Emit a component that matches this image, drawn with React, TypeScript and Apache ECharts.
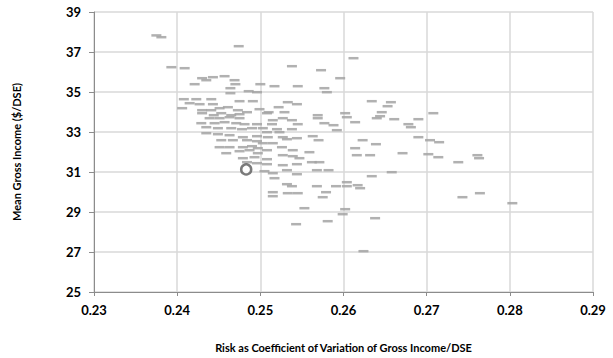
import React, { useEffect, useRef } from "react";
import * as echarts from "echarts";

// Risk (coefficient of variation) for each farm label
const riskValues: number[] = [
  0.2375, 0.2381, 0.2474, 0.2393, 0.2409, 0.2538, 0.2573, 0.2612, 0.2596, 0.2430,
  0.2443, 0.2457, 0.2421, 0.2435, 0.2469, 0.2470, 0.2500, 0.2517, 0.2545, 0.2464,
  0.2486, 0.2496, 0.2577, 0.2580, 0.2464, 0.2408, 0.2423, 0.2441, 0.2475, 0.2491,
  0.2415, 0.2427, 0.2443, 0.2533, 0.2544, 0.2634, 0.2657, 0.2653, 0.2406, 0.2430,
  0.2441, 0.2451, 0.2461, 0.2473, 0.2484, 0.2499, 0.2510, 0.2522, 0.2529, 0.2569,
  0.2569, 0.2602, 0.2604, 0.2646, 0.2644, 0.2640, 0.2661, 0.2708, 0.2430, 0.2444,
  0.2453, 0.2465, 0.2475, 0.2508, 0.2439, 0.2451, 0.2463, 0.2475, 0.2515, 0.2527,
  0.2538, 0.2614, 0.2690, 0.2678, 0.2681, 0.2429, 0.2445, 0.2457, 0.2471, 0.2481,
  0.2496, 0.2514, 0.2545, 0.2577, 0.2588, 0.2435, 0.2449, 0.2465, 0.2478, 0.2490,
  0.2503, 0.2520, 0.2538, 0.2592, 0.2508, 0.2523, 0.2435, 0.2449, 0.2463, 0.2479,
  0.2496, 0.2509, 0.2527, 0.2544, 0.2563, 0.2570, 0.2623, 0.2639, 0.2690, 0.2704,
  0.2715, 0.2453, 0.2467, 0.2484, 0.2496, 0.2515, 0.2532, 0.2503, 0.2451, 0.2463,
  0.2479, 0.2490, 0.2497, 0.2508, 0.2526, 0.2539, 0.2614, 0.2459, 0.2475, 0.2487,
  0.2497, 0.2527, 0.2539, 0.2547, 0.2559, 0.2616, 0.2632, 0.2671, 0.2702, 0.2714,
  0.2738, 0.2761, 0.2763, 0.2479, 0.2493, 0.2508, 0.2484, 0.2496, 0.2508, 0.2527,
  0.2544, 0.2562, 0.2571, 0.2505, 0.2515, 0.2532, 0.2544, 0.2568, 0.2582, 0.2634,
  0.2658, 0.2517, 0.2532, 0.2538, 0.2568, 0.2591, 0.2604, 0.2604, 0.2617, 0.2620,
  0.2515, 0.2515, 0.2533, 0.2545, 0.2579, 0.2575, 0.2764, 0.2743, 0.2803, 0.2553,
  0.2602, 0.2599, 0.2581, 0.2638, 0.2543, 0.2624,
];

// Mean gross income ($/DSE) for each farm label
const incomeValues: number[] = [
  37.83, 37.74, 37.29, 36.24, 36.19, 36.29, 36.09, 36.69, 35.69, 35.69,
  35.74, 35.79, 35.39, 35.59, 35.59, 35.39, 35.39, 35.29, 35.29, 35.19,
  35.04, 34.99, 35.19, 34.99, 34.94, 34.64, 34.64, 34.64, 34.54, 34.54,
  34.44, 34.39, 34.39, 34.49, 34.39, 34.54, 34.49, 34.29, 34.19, 34.09,
  34.09, 34.19, 34.24, 34.09, 33.99, 34.14, 33.99, 34.24, 33.99, 33.84,
  33.69, 33.94, 33.74, 33.99, 33.79, 33.69, 33.64, 33.94, 33.94, 33.84,
  33.94, 33.84, 33.89, 33.94, 33.69, 33.69, 33.74, 33.69, 33.59, 33.69,
  33.59, 33.49, 33.64, 33.39, 33.24, 33.44, 33.44, 33.49, 33.44, 33.39,
  33.39, 33.39, 33.39, 33.44, 33.34, 33.24, 33.19, 33.19, 33.14, 33.19,
  33.19, 33.14, 33.14, 33.09, 32.99, 32.99, 32.94, 32.89, 32.84, 32.74,
  32.79, 32.74, 32.74, 32.69, 32.79, 32.59, 32.59, 32.39, 32.74, 32.59,
  32.49, 32.59, 32.59, 32.59, 32.54, 32.44, 32.64, 32.44, 32.24, 32.24,
  32.24, 32.29, 32.19, 32.09, 32.24, 32.09, 32.19, 31.94, 32.04, 32.09,
  31.94, 31.84, 31.79, 31.69, 31.99, 31.84, 31.84, 31.94, 31.89, 31.74,
  31.49, 31.84, 31.69, 31.69, 31.74, 31.64, 31.49, 31.44, 31.39, 31.34,
  31.39, 31.49, 31.49, 31.04, 30.94, 31.09, 30.89, 31.09, 31.09, 30.79,
  30.99, 30.69, 30.39, 30.29, 30.29, 30.29, 30.49, 30.29, 30.34, 30.19,
  29.99, 29.79, 29.94, 29.94, 29.99, 29.74, 29.94, 29.74, 29.44, 29.19,
  29.14, 28.89, 28.54, 28.69, 28.39, 27.04,
];

// Highlighted farm (open circle)
const highlightRisk = 0.2483;
const highlightIncome = 31.13;

const xTicks = { min: 0.23, max: 0.29, interval: 0.01 };
const yTicks = { min: 25, max: 39, interval: 2 };

const xTitle = "Risk as Coefficient of Variation of Gross Income/DSE";
const yTitle = "Mean Gross Income ($/DSE)";

export default function App() {
  const ref = useRef<HTMLDivElement>(null);

  useEffect(() => {
    if (!ref.current) return;
    const chart = echarts.init(ref.current, undefined, { renderer: "svg" });
    const farmData = riskValues.map((r, i) => [r, incomeValues[i]]);
    const font = "Lato, 'Open Sans', 'Liberation Sans', sans-serif";
    chart.setOption({
      animation: false,
      backgroundColor: "#ffffff",
      grid: {
        left: 94,
        right: 20,
        top: 12,
        bottom: 66,
        containLabel: false,
        outerBoundsMode: "none",
      },
      xAxis: {
        type: "value",
        min: xTicks.min,
        max: xTicks.max,
        interval: xTicks.interval,
        name: xTitle,
        nameLocation: "middle",
        nameGap: 50,
        nameTextStyle: { fontFamily: font, fontWeight: "bold", fontSize: 11, color: "#000" },
        axisLine: { show: true, lineStyle: { color: "#8c8c8c", width: 1 } },
        axisTick: { show: true, length: 4, lineStyle: { color: "#8c8c8c" } },
        axisLabel: {
          margin: 11,
          fontFamily: font,
          fontWeight: "bold",
          fontSize: 13,
          color: "#000",
          formatter: (v: number) => v.toFixed(2),
        },
        splitLine: { show: true, lineStyle: { color: "#d9d9d9", width: 1.5 } },
      },
      yAxis: {
        type: "value",
        min: yTicks.min,
        max: yTicks.max,
        interval: yTicks.interval,
        name: yTitle,
        nameLocation: "middle",
        nameGap: 72,
        nameTextStyle: { fontFamily: font, fontWeight: "bold", fontSize: 11, color: "#000" },
        axisLine: { show: true, lineStyle: { color: "#8c8c8c", width: 1 } },
        axisTick: { show: true, length: 5, lineStyle: { color: "#8c8c8c" } },
        axisLabel: {
          margin: 13,
          fontFamily: font,
          fontWeight: "bold",
          fontSize: 13,
          color: "#000",
        },
        splitLine: { show: true, lineStyle: { color: "#d9d9d9", width: 1.5 } },
      },
      series: [
        {
          type: "scatter",
          data: farmData,
          symbol: "rect",
          symbolSize: [10, 2.5],
          itemStyle: { color: "#a3a3a3", opacity: 0.85 },
          silent: true,
        },
        {
          type: "scatter",
          data: [[highlightRisk, highlightIncome]],
          symbol: "circle",
          symbolSize: 10,
          itemStyle: { color: "#ffffff", borderColor: "#595959", borderWidth: 2.5 },
          z: 5,
          silent: true,
        },
      ],
    });
    return () => chart.dispose();
  }, []);

  return (
    <div
      ref={ref}
      style={{ position: "fixed", left: 0, top: 0, width: 613, height: 358 }}
    />
  );
}
